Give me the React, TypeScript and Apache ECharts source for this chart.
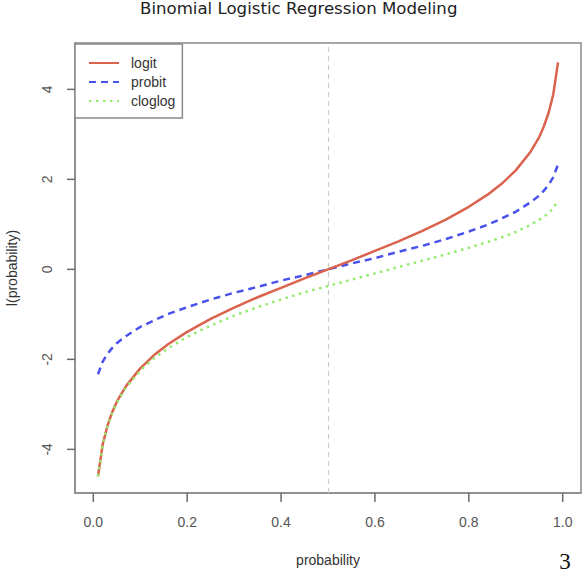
import React, { useEffect, useRef } from "react";
import * as echarts from "echarts";

// probability grid and the three link transforms
const probs = [
  0.01, 0.02, 0.03, 0.04, 0.05, 0.07, 0.1, 0.13, 0.16, 0.2, 0.25, 0.3, 0.35, 0.4, 0.45, 0.5,
  0.55, 0.6, 0.65, 0.7, 0.75, 0.8, 0.84, 0.87, 0.9, 0.93, 0.95, 0.96, 0.97, 0.98, 0.99,
];
const logitVals = [
  -4.6, -3.89, -3.48, -3.18, -2.94, -2.59, -2.2, -1.9, -1.66, -1.39, -1.1, -0.85, -0.62, -0.41,
  -0.2, 0, 0.2, 0.41, 0.62, 0.85, 1.1, 1.39, 1.66, 1.9, 2.2, 2.59, 2.94, 3.18, 3.48, 3.89, 4.6,
];
const probitVals = [
  -2.33, -2.05, -1.88, -1.75, -1.64, -1.48, -1.28, -1.13, -0.99, -0.84, -0.67, -0.52, -0.39,
  -0.25, -0.13, 0, 0.13, 0.25, 0.39, 0.52, 0.67, 0.84, 0.99, 1.13, 1.28, 1.48, 1.64, 1.75, 1.88,
  2.05, 2.33,
];
const cloglogVals = [
  -4.6, -3.9, -3.49, -3.2, -2.97, -2.62, -2.25, -1.97, -1.75, -1.5, -1.25, -1.03, -0.84, -0.67,
  -0.51, -0.37, -0.23, -0.09, 0.05, 0.19, 0.33, 0.48, 0.61, 0.71, 0.83, 0.98, 1.1, 1.17, 1.25,
  1.36, 1.53,
];
const xTicks = [0, 0.2, 0.4, 0.6, 0.8, 1.0];
const yTicks = [-4, -2, 0, 2, 4];
const refLine = 0.5;

const X_MIN = -0.039;
const X_MAX = 1.039;
const Y_MIN = -4.97;
const Y_MAX = 5.03;

const axisFont = "'Liberation Sans', Arial, sans-serif";
const boxColor = "#8a8a8a";
const tickColor = "#6a6a6a";

const App: React.FC = () => {
  const chartRef = useRef<HTMLDivElement>(null);

  useEffect(() => {
    document.body.style.margin = "0";
    if (!chartRef.current) return;
    const chart = echarts.init(chartRef.current, null, { renderer: "svg" });

    const pair = (vals: number[]) => probs.map((p, i) => [p, vals[i]]);

    chart.setOption({
      animation: false,
      backgroundColor: "#fff",
      title: {
        text: "Binomial Logistic Regression Modeling",
        left: 140,
        top: 0,
        padding: 0,
        textStyle: {
          fontFamily: "'DejaVu Sans', sans-serif",
          fontWeight: "normal",
          fontSize: 16.6,
          color: "#222",
        },
      },
      legend: {
        orient: "vertical",
        left: 75,
        top: 44,
        padding: [12, 7, 10, 13],
        itemWidth: 30,
        itemHeight: 14,
        itemGap: 5,
        borderColor: boxColor,
        borderWidth: 1.5,
        backgroundColor: "#fff",
        itemStyle: { opacity: 0 },
        textStyle: { fontFamily: axisFont, fontSize: 14, color: "#333", padding: [0, 0, 0, 7] },
        data: ["logit", "probit", "cloglog"],
      },
      grid: {
        left: 75,
        right: 3,
        top: 43,
        bottom: 79,
        show: true,
        borderColor: boxColor,
        borderWidth: 1.5,
        containLabel: false,
        outerBoundsMode: "none",
      },
      xAxis: {
        type: "value",
        min: X_MIN,
        max: X_MAX,
        name: "probability",
        nameLocation: "middle",
        nameGap: 60,
        nameTextStyle: { fontFamily: axisFont, fontSize: 14, color: "#333" },
        axisLine: { show: true, onZero: false, lineStyle: { color: boxColor, width: 1.5 } },
        splitLine: { show: false },
        axisTick: { show: false },
        axisLabel: {
          customValues: xTicks,
          margin: 22,
          fontFamily: axisFont,
          fontSize: 14,
          color: "#555",
          formatter: (v: number) => v.toFixed(1),
        },
      },
      yAxis: {
        type: "value",
        min: Y_MIN,
        max: Y_MAX,
        name: "l(probability)",
        nameLocation: "middle",
        nameGap: 56,
        nameTextStyle: { fontFamily: axisFont, fontSize: 14, color: "#333" },
        axisLine: { show: true, onZero: false, lineStyle: { color: boxColor, width: 1.5 } },
        splitLine: { show: false },
        axisTick: { show: false },
        axisLabel: {
          customValues: yTicks,
          rotate: 90,
          margin: 21,
          fontFamily: axisFont,
          fontSize: 14,
          color: "#555",
        },
      },
      series: [
        {
          name: "logit",
          type: "line",
          symbol: "none",
          data: pair(logitVals),
          z: 3,
          lineStyle: { color: "#DA634D", width: 2.5 },
          itemStyle: { color: "#DA634D" },
          markLine: {
            silent: true,
            symbol: "none",
            label: { show: false },
            lineStyle: { color: "#cccccc", type: [5, 4], width: 1.2 },
            data: [{ xAxis: refLine }],
          },
        },
        {
          name: "probit",
          type: "line",
          symbol: "none",
          data: pair(probitVals),
          z: 2,
          lineStyle: { color: "#4A52EC", width: 2.5, type: [7, 5] },
          itemStyle: { color: "#4A52EC" },
        },
        {
          name: "cloglog",
          type: "line",
          symbol: "none",
          data: pair(cloglogVals),
          z: 4,
          lineStyle: { color: "#93EA6C", width: 2.5, type: [2.5, 4.5] },
          itemStyle: { color: "#93EA6C" },
        },
      ],
    });

    // R-style outside ticks as thin filled bars, positioned through the chart's scales
    const tickEls: any[] = [];
    xTicks.forEach((v) => {
      const p = chart.convertToPixel({ xAxisIndex: 0, yAxisIndex: 0 }, [v, Y_MIN]) as number[];
      tickEls.push({
        type: "rect",
        z: 100,
        silent: true,
        shape: { x: p[0] - 0.75, y: p[1], width: 1.5, height: 9 },
        style: { fill: tickColor },
      });
    });
    yTicks.forEach((v) => {
      const p = chart.convertToPixel({ xAxisIndex: 0, yAxisIndex: 0 }, [X_MIN, v]) as number[];
      tickEls.push({
        type: "rect",
        z: 100,
        silent: true,
        shape: { x: p[0] - 8, y: p[1] - 0.75, width: 8, height: 1.5 },
        style: { fill: tickColor },
      });
    });

    chart.setOption({
      graphic: [
        ...tickEls,
        {
          type: "text",
          x: 565,
          y: 561,
          z: 100,
          style: {
            text: "3",
            fontFamily: "'Liberation Serif', 'Times New Roman', serif",
            fontSize: 23,
            fill: "#111",
            align: "center",
            verticalAlign: "middle",
          },
        },
      ],
    });

    return () => {
      chart.dispose();
    };
  }, []);

  return <div ref={chartRef} style={{ width: 584, height: 572 }} />;
};

export default App;
